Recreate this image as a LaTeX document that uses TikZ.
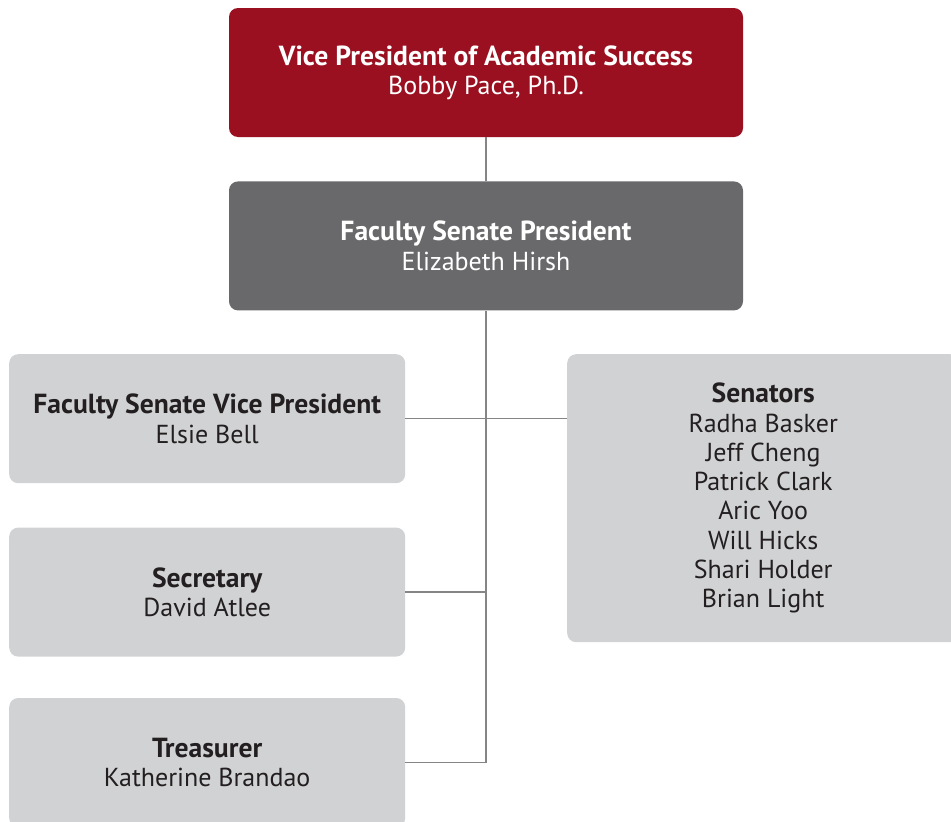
\documentclass[tikz,border=0pt]{standalone}
\usepackage{fontspec}
\setmainfont{PT Sans}
\usetikzlibrary{positioning}
\definecolor{vpred}{HTML}{9A1020}
\definecolor{fspgray}{HTML}{69696B}
\definecolor{boxgray}{HTML}{D1D2D4}
\definecolor{inkdark}{HTML}{231F20}
\definecolor{linegray}{HTML}{858585}
\tikzstyle{block} = [rectangle, rounded corners=9pt, align=center, inner sep=0pt,
    font=\fontsize{26}{29.3}\selectfont]
\tikzstyle{head} = [block, fill=vpred, text=white, minimum width=514pt, minimum height=129pt]
\tikzstyle{member} = [block, fill=boxgray, text=inkdark, minimum width=396pt, minimum height=129pt]
\tikzstyle{link} = [draw=linegray, line width=1.3pt]
\newcommand{\role}[1]{{\fontsize{27.6}{29.3}\selectfont\bfseries #1}}

\begin{document}
\begin{tikzpicture}[x=1pt, y=-1pt, node distance=44pt]
\clip (0,0) rectangle (951,822);
\node[head] (vp) at (486,72.5) {\role{Vice President of Academic Success}\\Bobby Pace, Ph.D.};
\node[head, fill=fspgray, below=of vp] (fsp) {\role{Faculty Senate President}\\Elizabeth Hirsh};
\node[member, anchor=north west] (fsvp) at (9,354) {\role{Faculty Senate Vice President}\\Elsie Bell};
\node[member, below=of fsvp] (sec) {\role{Secretary}\\David Atlee};
\node[member, below=41pt of sec] (tre) {\role{Treasurer}\\Katherine Brandao};
\node[member, anchor=north west, minimum width=392pt, minimum height=288pt] (sen) at (567,354)
    {\role{Senators}\\Radha Basker\\Jeff Cheng\\Patrick Clark\\Aric Yoo\\Will Hicks\\Shari Holder\\Brian Light};
\draw[link] (vp) -- (fsp);
\draw[link] (fsp.south) |- (tre.east);
\draw[link] (fsvp.east) -- (fsvp.east -| sen.west);
\draw[link] (sec.east) -- (sec.east -| fsp.south);
\end{tikzpicture}
\end{document}
